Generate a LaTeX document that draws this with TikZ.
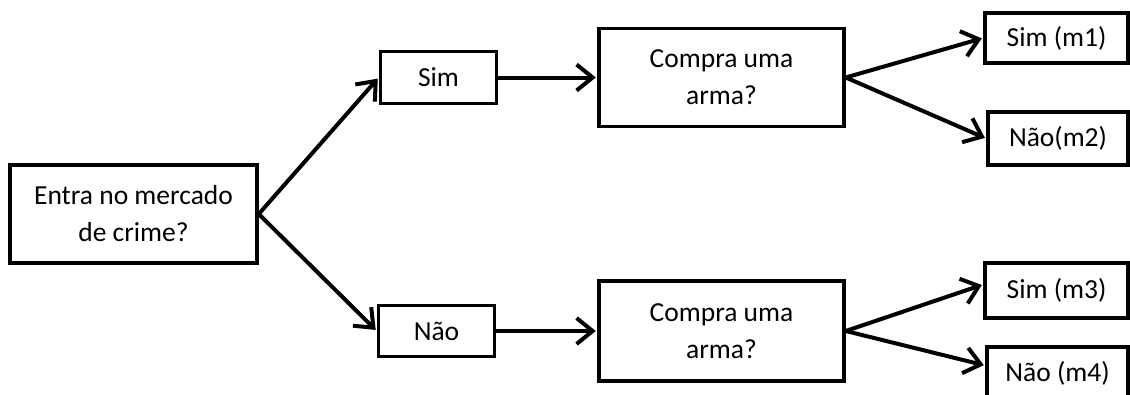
\documentclass[tikz,border=0pt]{standalone}
\usepackage{fontspec}
\setmainfont{Carlito}
\usetikzlibrary{positioning,arrows.meta}

\tikzset{
  box/.style={draw,line width=3.5pt,align=center,inner sep=0pt},
  arr/.style={-{Straight Barb[length=16pt,width=26pt,line width=4pt]},line width=4pt,shorten >=1.5pt}
}

\begin{document}
\begin{tikzpicture}[x=1pt,y=-1pt,font=\fontsize{27.5}{37}\selectfont]
\useasboundingbox (0,0) rectangle (1130,394);

\node[box,minimum width=247pt,minimum height=98pt] (D) at (133.5,214) {Entra no mercado\\de crime?};

\node[box,minimum width=116pt,minimum height=52pt] (S) [above right=58pt and 120pt of D] {Sim};
\node[box,minimum width=116pt,minimum height=51pt] (N) [below right=39pt and 118pt of D] {Não};

\node[box,minimum width=245pt,minimum height=98pt] (C1) [right=99pt of S] {Compra uma\\arma?};
\node[box,minimum width=245pt,minimum height=100pt] (C2) [right=101pt of N] {Compra uma\\arma?};

\node[box,minimum width=143pt,minimum height=50pt] (M1) at (1056.5,38) {Sim (m1)};
\node[box,minimum width=140pt,minimum height=53pt] (M2) at (1058,138.5) {Não(m2)};
\node[box,minimum width=143pt,minimum height=55pt] (M3) at (1056.5,290.5) {Sim (m3)};
\node[box,minimum width=141pt,minimum height=53pt] (M4) at (1057.5,373.5) {Não (m4)};

\draw[arr] (D.east) -- (S.west);
\draw[arr] (D.east) -- (N.west);
\draw[arr] (S.east) -- (C1.west);
\draw[arr] (N.east) -- (C2.west);
\draw[arr] (C1.east) -- (M1.west);
\draw[arr] (C1.east) -- (M2.west);
\draw[arr] (C2.east) -- ([yshift=6pt]M3.west);
\draw[arr] (C2.east) -- ([yshift=8pt]M4.west);

\end{tikzpicture}
\end{document}
